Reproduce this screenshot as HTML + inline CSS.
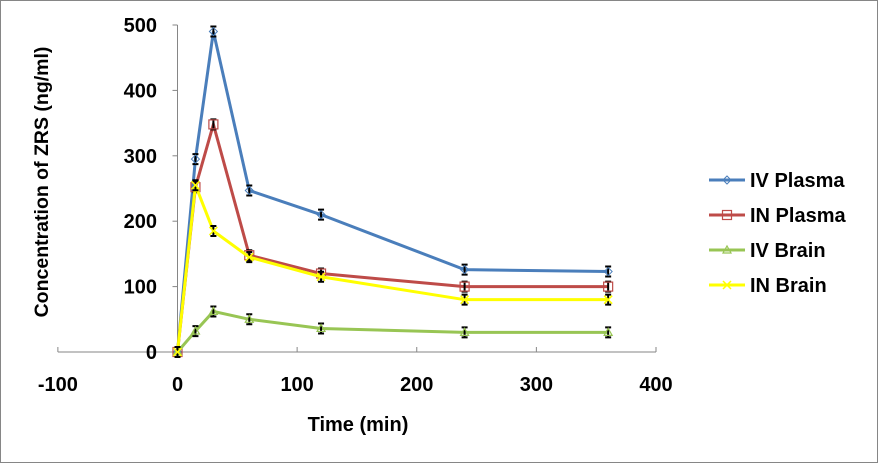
<!DOCTYPE html>
<html><head><meta charset="utf-8"><style>
body{margin:0;background:#fff;}
svg{display:block;font-family:"Liberation Sans",Arial,sans-serif;}
</style></head><body>
<svg id="chart" width="879" height="464">
<rect x="0.5" y="0.5" width="877" height="462" fill="#fff" stroke="#868686"/>
<g id="plot"></g>
<text x="358" y="431" text-anchor="middle" font-size="20" font-weight="bold">Time (min)</text>
<text transform="translate(48,182) rotate(-90)" text-anchor="middle" font-size="19.5" font-weight="bold">Concentration of ZRS (ng/ml)</text>
<g id="legend"></g>
</svg>
<script>
const times=[0,15,30,60,120,240,360];
const ivPlasma=[0,295,490,247,210,126,123];
const inPlasma=[0,252,348,148,120,100,100];
const ivBrain=[0,32,62,50,36,30,30];
const inBrain=[0,255,185,145,115,80,80];
const seriesNames=["IV Plasma","IN Plasma","IV Brain","IN Brain"];
const xTicks=[-100,0,100,200,300,400];
const yTicks=[0,100,200,300,400,500];
const NS="http://www.w3.org/2000/svg";
const X=v=>177.5+(v-0)*(656-177.5)/400;
const Y=v=>352-v*(352-25)/500;
const g=document.getElementById('plot');
function el(t,a,p){const e=document.createElementNS(NS,t);for(const k in a)e.setAttribute(k,a[k]);(p||g).appendChild(e);return e;}
let ax=el('line',{x1:X(-100),x2:X(400),y1:Y(0),y2:Y(0),stroke:'#868686'});


let ay=el('line',{x1:X(0),x2:X(0),y1:Y(0),y2:Y(500),stroke:'#868686'});


xTicks.forEach(t=>{
 el('line',{x1:X(t),x2:X(t),y1:Y(0),y2:Y(0)-5,stroke:'#868686'});
 const tx=el('text',{x:X(t),y:391,'text-anchor':'middle','font-size':20,'font-weight':'bold'});
 tx.textContent=t;
 
 
});
yTicks.forEach(t=>{
 el('line',{x1:X(0)-5,x2:X(0),y1:Y(t),y2:Y(t),stroke:'#868686'});
 const tx=el('text',{x:157,y:Y(t)+7,'text-anchor':'end','font-size':20,'font-weight':'bold'});
 tx.textContent=t;
 
 
});
const colors=['#4a7ebb','#be4b48','#98c554','#ffff00'];
const data=[ivPlasma,inPlasma,ivBrain,inBrain];
function marker(i,x,y,parent){
 if(i===0)el('path',{d:`M${x-4} ${y}L${x} ${y-4}L${x+4} ${y}L${x} ${y+4}Z`,fill:'none',stroke:colors[0],'stroke-width':1},parent);
 else if(i===1)el('rect',{x:x-4.5,y:y-4.5,width:9,height:9,fill:'none',stroke:colors[1],'stroke-width':1.2},parent);
 else if(i===2)el('path',{d:`M${x-4} ${y+3}L${x} ${y-4}L${x+4} ${y+3}Z`,fill:'none',stroke:colors[2],'stroke-width':1.2},parent);
 else el('path',{d:`M${x-4} ${y-4}L${x+4} ${y+4}M${x+4} ${y-4}L${x-4} ${y+4}`,stroke:colors[3],'stroke-width':1.5},parent);
}
data.forEach((s,i)=>{
 const pl=el('polyline',{points:s.map((v,j)=>X(times[j])+','+Y(v)).join(' '),fill:'none',stroke:colors[i],'stroke-width':3});
 
 
 s.forEach((v,j)=>{
  const x=X(times[j]),y=Y(v);
  el('path',{d:`M${x-3} ${y-5}H${x+3}M${x} ${y-5}V${y+5}M${x-3} ${y+5}H${x+3}`,stroke:'#000','stroke-width':2});
  marker(i,x,y);
 });
});
const lg=document.getElementById('legend');
seriesNames.forEach((n,i)=>{
 const y=180+i*35;
 const ln=el('line',{x1:709,x2:745,y1:y,y2:y,stroke:colors[i],'stroke-width':3},lg);
 
 
 marker(i,727,y,lg);
 const t=el('text',{x:750,y:y+7,'font-size':20,'font-weight':'bold'},lg);
 t.textContent=n;
 
 
});
</script>
</body></html>
